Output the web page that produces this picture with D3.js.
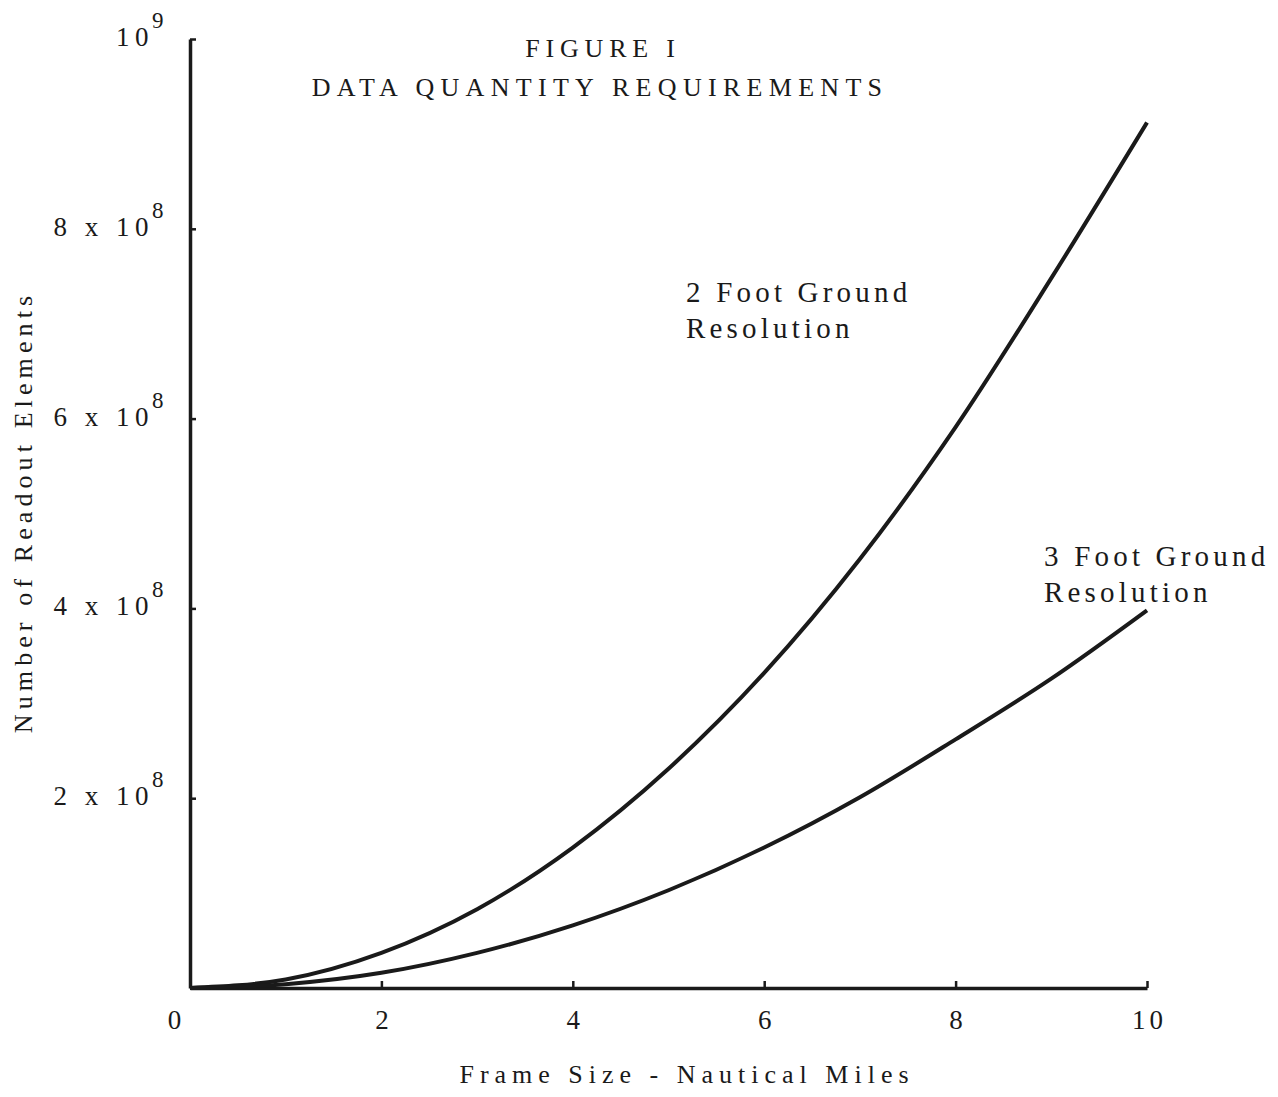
<!DOCTYPE html>
<html>
<head>
<meta charset="utf-8">
<script src="https://cdn.jsdelivr.net/npm/d3@7"></script>
<style>
  body { margin: 0; background: #fff; }
  text { font-family: "Liberation Serif", "DejaVu Serif", serif; fill: #1a1a1a; }
</style>
</head>
<body>
<div id="chart"></div>
<script>
// frame size in nautical miles
const frameSize = [0, 1, 2, 3, 4, 5, 6, 7, 8, 9, 10];
// readout elements
const twoFoot = [0, 0.09e8, 0.37e8, 0.83e8, 1.48e8, 2.31e8, 3.32e8, 4.52e8, 5.91e8, 7.48e8, 9.12e8];
const threeFoot = [0, 0.04e8, 0.16e8, 0.37e8, 0.66e8, 1.03e8, 1.48e8, 2.01e8, 2.62e8, 3.26e8, 3.98e8];
const xTicks = [0, 2, 4, 6, 8, 10];
const yTicks = [2e8, 4e8, 6e8, 8e8, 1e9];
const yTickMain = { 2e8: '2 x 10', 4e8: '4 x 10', 6e8: '6 x 10', 8e8: '8 x 10', 1e9: '10' };
const yTickExp = { 2e8: '8', 4e8: '8', 6e8: '8', 8e8: '8', 1e9: '9' };

const width = 1278;
const height = 1097;

const svg = d3.select('#chart')
  .append('svg')
  .attr('width', width)
  .attr('height', height);

const x = d3.scaleLinear().domain([0, 10]).range([190, 1147]);
const y = d3.scaleLinear().domain([0, 1e9]).range([988, 39]);

// x axis
const xAxis = svg.append('g')
  .attr('transform', `translate(0,${y(0)})`)
  .call(d3.axisBottom(x).tickValues(xTicks).tickSizeInner(-7).tickSizeOuter(0).tickPadding(22));
xAxis.select('.domain').attr('stroke', '#1a1a1a').attr('stroke-width', 3.5);
xAxis.selectAll('.tick line').attr('stroke', '#1a1a1a').attr('stroke-width', 2.5);
xAxis.selectAll('.tick text')
  .attr('font-size', 27)
  .attr('letter-spacing', 4)
  .attr('font-family', '"Liberation Serif", serif')
  .attr('fill', '#1a1a1a')
  .attr('dx', d => d === 0 ? -14 : 2);

// y axis
const yAxis = svg.append('g')
  .attr('transform', `translate(${x(0)},0)`)
  .call(d3.axisLeft(y).tickValues(yTicks).tickSizeInner(-6).tickSizeOuter(0).tickFormat(''));
yAxis.select('.domain').attr('stroke', '#1a1a1a').attr('stroke-width', 3.5);
yAxis.selectAll('.tick line').attr('stroke', '#1a1a1a').attr('stroke-width', 2.5);

// y tick labels with superscript exponents
svg.append('g')
  .selectAll('text')
  .data(yTicks)
  .enter()
  .append('text')
  .attr('x', 154)
  .attr('y', d => y(d) + 7)
  .attr('text-anchor', 'end')
  .attr('font-size', 27)
  .attr('letter-spacing', 5.5)
  .text(d => yTickMain[d]);
svg.append('g')
  .selectAll('text')
  .data(yTicks)
  .enter()
  .append('text')
  .attr('x', 152)
  .attr('y', d => y(d) - 11)
  .attr('font-size', 23)
  .text(d => yTickExp[d]);

// curves
const line = d3.line()
  .x((d, i) => x(frameSize[i]))
  .y(d => y(d))
  .curve(d3.curveMonotoneX);

svg.append('path')
  .datum(twoFoot)
  .attr('d', line)
  .attr('fill', 'none')
  .attr('stroke', '#1a1a1a')
  .attr('stroke-width', 4);

svg.append('path')
  .datum(threeFoot)
  .attr('d', line)
  .attr('fill', 'none')
  .attr('stroke', '#1a1a1a')
  .attr('stroke-width', 4);

// title
svg.append('text')
  .attr('x', 603).attr('y', 57)
  .attr('text-anchor', 'middle')
  .attr('font-size', 26)
  .attr('letter-spacing', 5.8)
  .text('FIGURE I');
svg.append('text')
  .attr('x', 600).attr('y', 96)
  .attr('text-anchor', 'middle')
  .attr('font-size', 26)
  .attr('letter-spacing', 6.3)
  .text('DATA QUANTITY REQUIREMENTS');

// curve labels
const labels = [
  { text: '2 Foot Ground', x: 686, y: 302 },
  { text: 'Resolution', x: 686, y: 338 },
  { text: '3 Foot Ground', x: 1044, y: 566 },
  { text: 'Resolution', x: 1044, y: 602 }
];
svg.append('g')
  .selectAll('text')
  .data(labels)
  .enter()
  .append('text')
  .attr('x', d => d.x)
  .attr('y', d => d.y)
  .attr('font-size', 29)
  .attr('letter-spacing', 4.2)
  .text(d => d.text);

// axis titles
svg.append('text')
  .attr('x', 687).attr('y', 1083)
  .attr('text-anchor', 'middle')
  .attr('font-size', 26)
  .attr('letter-spacing', 6)
  .text('Frame Size - Nautical Miles');
svg.append('text')
  .attr('transform', 'translate(32,512) rotate(-90)')
  .attr('text-anchor', 'middle')
  .attr('font-size', 26)
  .attr('letter-spacing', 5.1)
  .text('Number of Readout Elements');
</script>
</body>
</html>
